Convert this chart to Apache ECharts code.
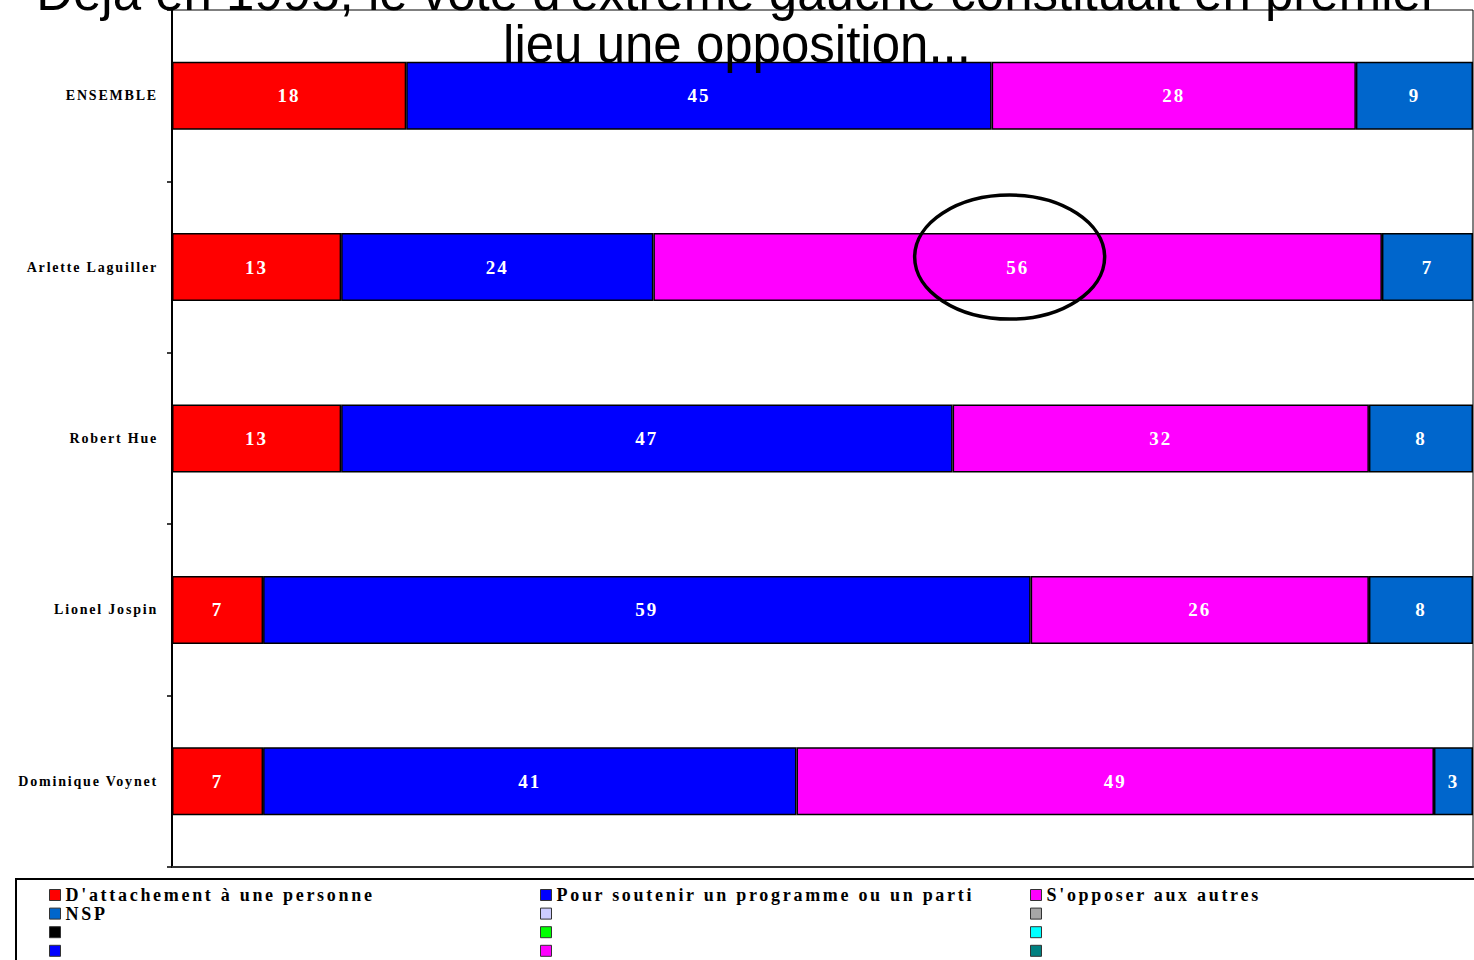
<!DOCTYPE html>
<html lang="fr">
<head>
<meta charset="utf-8">
<title>Motivations du vote 1995</title>
<script src="https://cdn.jsdelivr.net/npm/echarts@6/dist/echarts.min.js"></script>
<style>
  html, body { margin: 0; padding: 0; background: #fff; }
  #chart { width: 1474px; height: 960px; }
  /* spaced-out serif lettering for axis labels, legend and bar values */
  #chart text[style*="14px"] { letter-spacing: 1.8px; }
  #chart text[style*="18px"] { letter-spacing: 2.7px; }
  #chart text[style*="19px"] { letter-spacing: 2px; }
</style>
</head>
<body>
<div id="chart"></div>
<script>
// Categories (top to bottom)
const categories = ['ENSEMBLE', 'Arlette Laguiller', 'Robert Hue', 'Lionel Jospin', 'Dominique Voynet'];

// Percentages per motivation
const attachement = [18, 13, 13, 7, 7];
const programme   = [45, 24, 47, 59, 41];
const opposer     = [28, 56, 32, 26, 49];
const nsp         = [9, 7, 8, 8, 3];

const seriesNames = [
  "D'attachement à une personne",
  'Pour soutenir un programme ou un parti',
  "S'opposer aux autres",
  'NSP'
];
const seriesColors = ['#FF0000', '#0000FF', '#FF00FF', '#0066CC'];

// Unlabelled palette swatches shown in the legend
const spareNames  = ['spare1', 'spare2', 'spare3', 'spare4', 'spare5', 'spare6', 'spare7', 'spare8'];
const spareColors = ['#CCCCFF', '#A6A6A6', '#000000', '#00FF00', '#00FFFF', '#0000FF', '#FF00FF', '#008080'];

const titleLines = [
  "Déjà en 1995, le vote d'extrême gauche constituait en premier",
  'lieu une opposition...'
];

const serif = "'Liberation Serif', 'Times New Roman', serif";

const chart = echarts.init(document.getElementById('chart'), null, { renderer: 'svg' });

const values = [attachement, programme, opposer, nsp];
const series = values.map((arr, i) => ({
  name: seriesNames[i],
  type: 'bar',
  stack: 'total',
  barWidth: 68,
  data: arr,
  itemStyle: { color: seriesColors[i], borderColor: '#000', borderWidth: 1.5 },
  label: {
    show: true,
    position: 'inside',
    color: '#fff',
    fontFamily: serif,
    fontWeight: 'bold',
    fontSize: 19
  },
  emphasis: { disabled: true }
}));
spareNames.forEach((n, i) => {
  series.push({
    name: n,
    type: 'bar',
    stack: 'total',
    data: [],
    itemStyle: { color: spareColors[i], borderColor: '#333', borderWidth: 1 }
  });
});

const legendBase = {
  orient: 'vertical',
  top: 886,
  height: 120,
  padding: 0,
  itemWidth: 11,
  itemHeight: 11,
  itemGap: 0.6,
  selectedMode: false,
  icon: 'rect',
  itemStyle: { borderColor: '#333', borderWidth: 1 },
  textStyle: { fontFamily: serif, fontWeight: 'bold', fontSize: 18, lineHeight: 18, color: '#000' },
  formatter: name => (spareNames.includes(name) ? ' ' : name)
};

chart.setOption({
  animation: false,
  title: {
    text: titleLines.join('\n'),
    left: 'center',
    top: -34,
    padding: [0, 0, 0, 10],
    textStyle: {
      fontFamily: "'Liberation Sans', Arial, sans-serif",
      fontWeight: 'normal',
      fontSize: 51,
      lineHeight: 52,
      color: '#000'
    }
  },
  grid: {
    left: 172, right: 1, top: 10, bottom: 93,
    show: true, borderColor: '#000', borderWidth: 1, backgroundColor: '#fff'
  },
  xAxis: {
    type: 'value',
    min: 0, max: 100,
    axisLabel: { show: false },
    axisTick: { show: false },
    splitLine: { show: false },
    axisLine: { show: true, lineStyle: { color: '#333', width: 2 } }
  },
  yAxis: {
    type: 'category',
    inverse: true,
    data: categories,
    axisLine: { show: true, lineStyle: { color: '#000', width: 2 } },
    axisTick: { show: true, inside: false, length: 5, lineStyle: { color: '#000', width: 1.5 } },
    axisLabel: {
      margin: 14,
      color: '#000',
      fontFamily: serif,
      fontWeight: 'bold',
      fontSize: 14
    }
  },
  legend: [
    Object.assign({}, legendBase, { left: 49, data: [seriesNames[0], seriesNames[3], spareNames[2], spareNames[5]] }),
    Object.assign({}, legendBase, { left: 540, data: [seriesNames[1], spareNames[0], spareNames[3], spareNames[6]] }),
    Object.assign({}, legendBase, { left: 1030, data: [seriesNames[2], spareNames[1], spareNames[4], spareNames[7]] })
  ],
  series: series
});

// Highlight ring around the "S'opposer aux autres" share of Arlette Laguiller,
// anchored at the middle of that segment.
const ringRow = 1;
const segMid = attachement[ringRow] + programme[ringRow] + opposer[ringRow] / 2;
const c = chart.convertToPixel({ gridIndex: 0 }, [segMid, ringRow]);

chart.setOption({
  graphic: [
    {
      type: 'ellipse',
      shape: { cx: c[0] - 8, cy: c[1] - 10, rx: 95, ry: 62 },
      style: { fill: 'none', stroke: '#000', lineWidth: 3.5 },
      z: 100
    },
    {
      // frame around the legend
      type: 'rect',
      shape: { x: 16, y: 879, width: 1480, height: 120 },
      style: { fill: 'none', stroke: '#000', lineWidth: 2 },
      z: 100
    }
  ]
});
</script>
</body>
</html>
